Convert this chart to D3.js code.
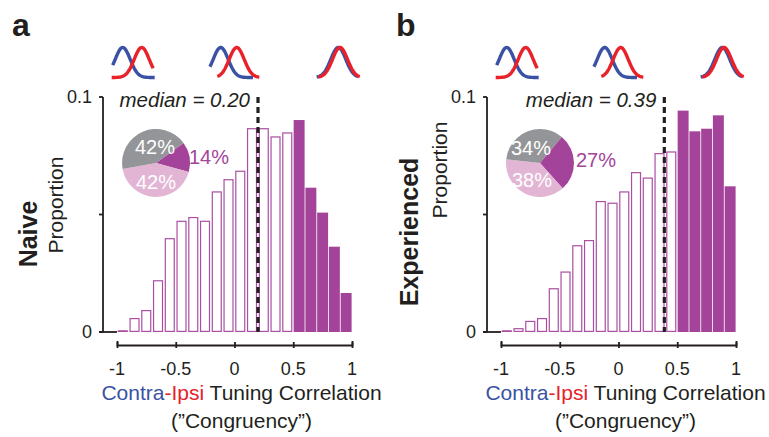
<!DOCTYPE html>
<html>
<head>
<meta charset="utf-8">
<script src="https://cdn.jsdelivr.net/npm/d3@7"></script>
<style>
	body { margin: 0; background: #fff; }
	svg { display: block; font-family: "Liberation Sans", Arial, sans-serif; }
</style>
</head>
<body>
<div class="container"></div>
<script>

// histogram bins (edges) and proportions
const binEdges = [-1, -0.9, -0.8, -0.7, -0.6, -0.5, -0.4, -0.3, -0.2, -0.1, 0,
	0.1, 0.2, 0.3, 0.4, 0.5, 0.6, 0.7, 0.8, 0.9, 1]

const naiveProp = [0.0005, 0.0057, 0.0091, 0.0218, 0.0397, 0.0471, 0.0487, 0.0471, 0.0596, 0.0648,
	0.0684, 0.0865, 0.0865, 0.0830, 0.0847, 0.0902, 0.0614, 0.0508, 0.0363, 0.0166]

const expProp = [0.0005, 0.0014, 0.0045, 0.0057, 0.0184, 0.0255, 0.0367, 0.0389, 0.0555, 0.0548,
	0.0596, 0.0678, 0.0655, 0.0759, 0.0766, 0.0942, 0.0854, 0.0865, 0.0922, 0.0620]

const medians = [0.20, 0.39]
const fillFrom = 0.5

// pie slices, clockwise from the start angle
const pieNaive = [
	{ k: 'purple', v: 14 },
	{ k: 'pink', v: 42 },
	{ k: 'gray', v: 42 }
]
const pieExp = [
	{ k: 'gray', v: 11 },
	{ k: 'purple', v: 27 },
	{ k: 'pink', v: 38 },
	{ k: 'gray', v: 23 }
]
const pieLabelsNaive = { gray: '42%', purple: '14%', pink: '42%' }
const pieLabelsExp = { gray: '34%', purple: '27%', pink: '38%' }

const xTicks = [-1, -0.5, 0, 0.5, 1]
const xTickLabels = ['-1', '-0.5', '0', '0.5', '1']
const yTicks = [0, 0.05, 0.1]
const yTickLabels = ['0', '', '0.1']

const colors = {
	purple: '#a3449a',
	stroke: '#aa4fa3',
	pink: '#e3b5d5',
	gray: '#939598',
	blue: '#3a52a3',
	red: '#e8212a',
	ink: '#231f20'
}

// little tuning-curve icons above each histogram (px, relative to icon centre)
const icons = [
	{ cx: 133.5, blue: [-10.8, -20.8, 21.5], red: [8.2, -21.8, 19.8] },
	{ cx: 234.7, blue: [-14, -24.7, 18.3], red: [2, -17.4, 24.6] },
	{ cx: 338.3, blue: [0, -21.6, 20], red: [1.7, -20, 21.7] }
]

const W = 769, H = 437

let svg = d3.select('.container')
	.append('svg')
	.attr('width', W)
	.attr('height', H)

function drawPanel(p) {
	const dx = p.dx
	const x = d3.scaleLinear().domain([-1, 1]).range([117 + dx, 352 + dx])
	const y = d3.scaleLinear().domain([0, 0.1]).range([332, 97])
	const g = svg.append('g')
	const binW = x(binEdges[1]) - x(binEdges[0])
	const axisX = 103 + dx

	// panel letter
	g.append('text')
		.attr('x', 12 + dx).attr('y', 36)
		.attr('font-size', 32).attr('font-weight', 'bold')
		.attr('fill', colors.ink)
		.text(p.letter)

	// icons
	const line = d3.line().x(d => d[0]).y(d => d[1])
	icons.forEach(ic => {
		['blue', 'red'].forEach(c => {
			const [mu, a, b] = ic[c]
			const pts = d3.range(a, b + 0.01, 0.5).map(t =>
				[ic.cx + dx + t, 77.5 - 30 * Math.exp(-((t - mu) ** 2) / (2 * 7.5 * 7.5))])
			g.append('path')
				.attr('d', line(pts))
				.attr('fill', 'none')
				.attr('stroke', colors[c])
				.attr('stroke-width', 3.4)
		})
	})

	// bars
	g.selectAll(null)
		.data(p.props)
		.enter()
		.append('rect')
		.each(function(d, i) {
			const x0 = x(binEdges[i])
			const filled = binEdges[i] >= fillFrom - 1e-9
			const r = d3.select(this)
			if (filled) {
				r.attr('x', x0 + 0.4).attr('width', binW - 0.8)
					.attr('y', y(d)).attr('height', y(0) - y(d))
					.attr('fill', colors.purple)
			} else {
				r.attr('x', x0 + 1.3).attr('width', binW - 2.8)
					.attr('y', y(d)).attr('height', Math.max(0.3, y(0) - y(d) - 0.6))
					.attr('fill', '#fff')
					.attr('stroke', colors.stroke)
					.attr('stroke-width', 1.2)
			}
		})

	// median line
	g.append('line')
		.attr('x1', x(p.median)).attr('x2', x(p.median))
		.attr('y1', y(0.1)).attr('y2', y(0))
		.attr('stroke', colors.ink)
		.attr('stroke-width', 3.2)
		.attr('stroke-dasharray', '6,4')

	g.append('text')
		.attr('x', x(p.median) - 8).attr('y', 107)
		.attr('text-anchor', 'end')
		.attr('font-size', 20.5).attr('font-style', 'italic')
		.attr('fill', colors.ink)
		.text('median = ' + p.median.toFixed(2))

	// y axis
	g.append('line')
		.attr('x1', axisX).attr('x2', axisX)
		.attr('y1', y(0.1)).attr('y2', y(0))
		.attr('stroke', colors.ink).attr('stroke-width', 1.8)
	g.append('line')
		.attr('x1', axisX - 4).attr('x2', x(-1))
		.attr('y1', y(0)).attr('y2', y(0))
		.attr('stroke', colors.ink).attr('stroke-width', 1.8)
	yTicks.forEach((t, i) => {
		g.append('line')
			.attr('x1', axisX - 4).attr('x2', axisX)
			.attr('y1', y(t)).attr('y2', y(t))
			.attr('stroke', colors.ink).attr('stroke-width', 1.8)
		g.append('text')
			.attr('x', axisX - 11).attr('y', y(t) + 6)
			.attr('text-anchor', 'end')
			.attr('font-size', 18)
			.attr('fill', colors.ink)
			.text(yTickLabels[i])
	})

	// x axis
	const xa = g.append('g')
		.attr('transform', 'translate(0,345)')
		.call(d3.axisTop(x).tickValues(xTicks).tickSize(4).tickFormat(''))
	xa.select('.domain').attr('stroke', colors.ink).attr('stroke-width', 1.8)
	xa.selectAll('.tick line').attr('stroke', colors.ink).attr('stroke-width', 1.8).attr('y2', 3).attr('y1', -3)
	xTicks.forEach((t, i) => {
		g.append('text')
			.attr('x', x(t)).attr('y', 375)
			.attr('text-anchor', 'middle')
			.attr('font-size', 18)
			.attr('fill', colors.ink)
			.text(xTickLabels[i])
	})

	// x title
	const tt = g.append('text')
		.attr('x', x(0) + 7).attr('y', 400)
		.attr('text-anchor', 'middle')
		.attr('font-size', 21)
		.attr('fill', colors.ink)
	tt.append('tspan').attr('fill', colors.blue).text('Contra')
	tt.append('tspan').attr('fill', colors.red).text('-Ipsi')
	tt.append('tspan').text(' Tuning Correlation')
	g.append('text')
		.attr('x', x(0) + 7).attr('y', 428)
		.attr('text-anchor', 'middle')
		.attr('font-size', 21)
		.attr('fill', colors.ink)
		.text('(\u201DCongruency\u201D)')

	// side labels
	g.append('text')
		.attr('transform', `translate(${p.condX + dx},${p.condY}) rotate(-90)`)
		.attr('text-anchor', 'middle')
		.attr('font-size', 25).attr('font-weight', 'bold')
		.attr('fill', colors.ink)
		.text(p.cond)
	g.append('text')
		.attr('transform', `translate(${63 + dx},${p.propY}) rotate(-90)`)
		.attr('text-anchor', 'middle')
		.attr('font-size', 21)
		.attr('fill', colors.ink)
		.text('Proportion')

	// pie
	const pc = [156 + dx, 163]
	const pie = d3.pie().sort(null).value(d => d.v)
		.startAngle(p.pieStart).endAngle(p.pieStart + 2 * Math.PI)
	const arc = d3.arc().innerRadius(0).outerRadius(34)
	const pg = g.append('g').attr('transform', `translate(${pc[0]},${pc[1]})`)
	pg.selectAll('path')
		.data(pie(p.pie))
		.enter()
		.append('path')
		.attr('d', arc)
		.attr('fill', d => colors[d.data.k])
	p.labelPos.forEach(l => {
		pg.append('text')
			.attr('x', l.x).attr('y', l.y)
			.attr('text-anchor', 'middle')
			.attr('font-size', 20)
			.attr('fill', l.k === 'purple' ? colors.purple : '#fff')
			.text(p.labels[l.k])
	})
}

drawPanel({
	dx: 0, letter: 'a', props: naiveProp, median: medians[0],
	cond: 'Naive', condX: 37, condY: 234, propY: 205,
	pie: pieNaive, pieStart: 54 * Math.PI / 180, labels: pieLabelsNaive,
	labelPos: [{ k: 'gray', x: -1, y: -9 }, { k: 'pink', x: 0, y: 26 }, { k: 'purple', x: 53, y: 1 }]
})

drawPanel({
	dx: 384, letter: 'b', props: expProp, median: medians[1],
	cond: 'Experienced', condX: 34, condY: 232, propY: 170,
	pie: pieExp, pieStart: 0, labels: pieLabelsExp,
	labelPos: [{ k: 'gray', x: -9, y: -8 }, { k: 'pink', x: -8, y: 24 }, { k: 'purple', x: 56, y: 4 }]
})

</script>
</body>
</html>
